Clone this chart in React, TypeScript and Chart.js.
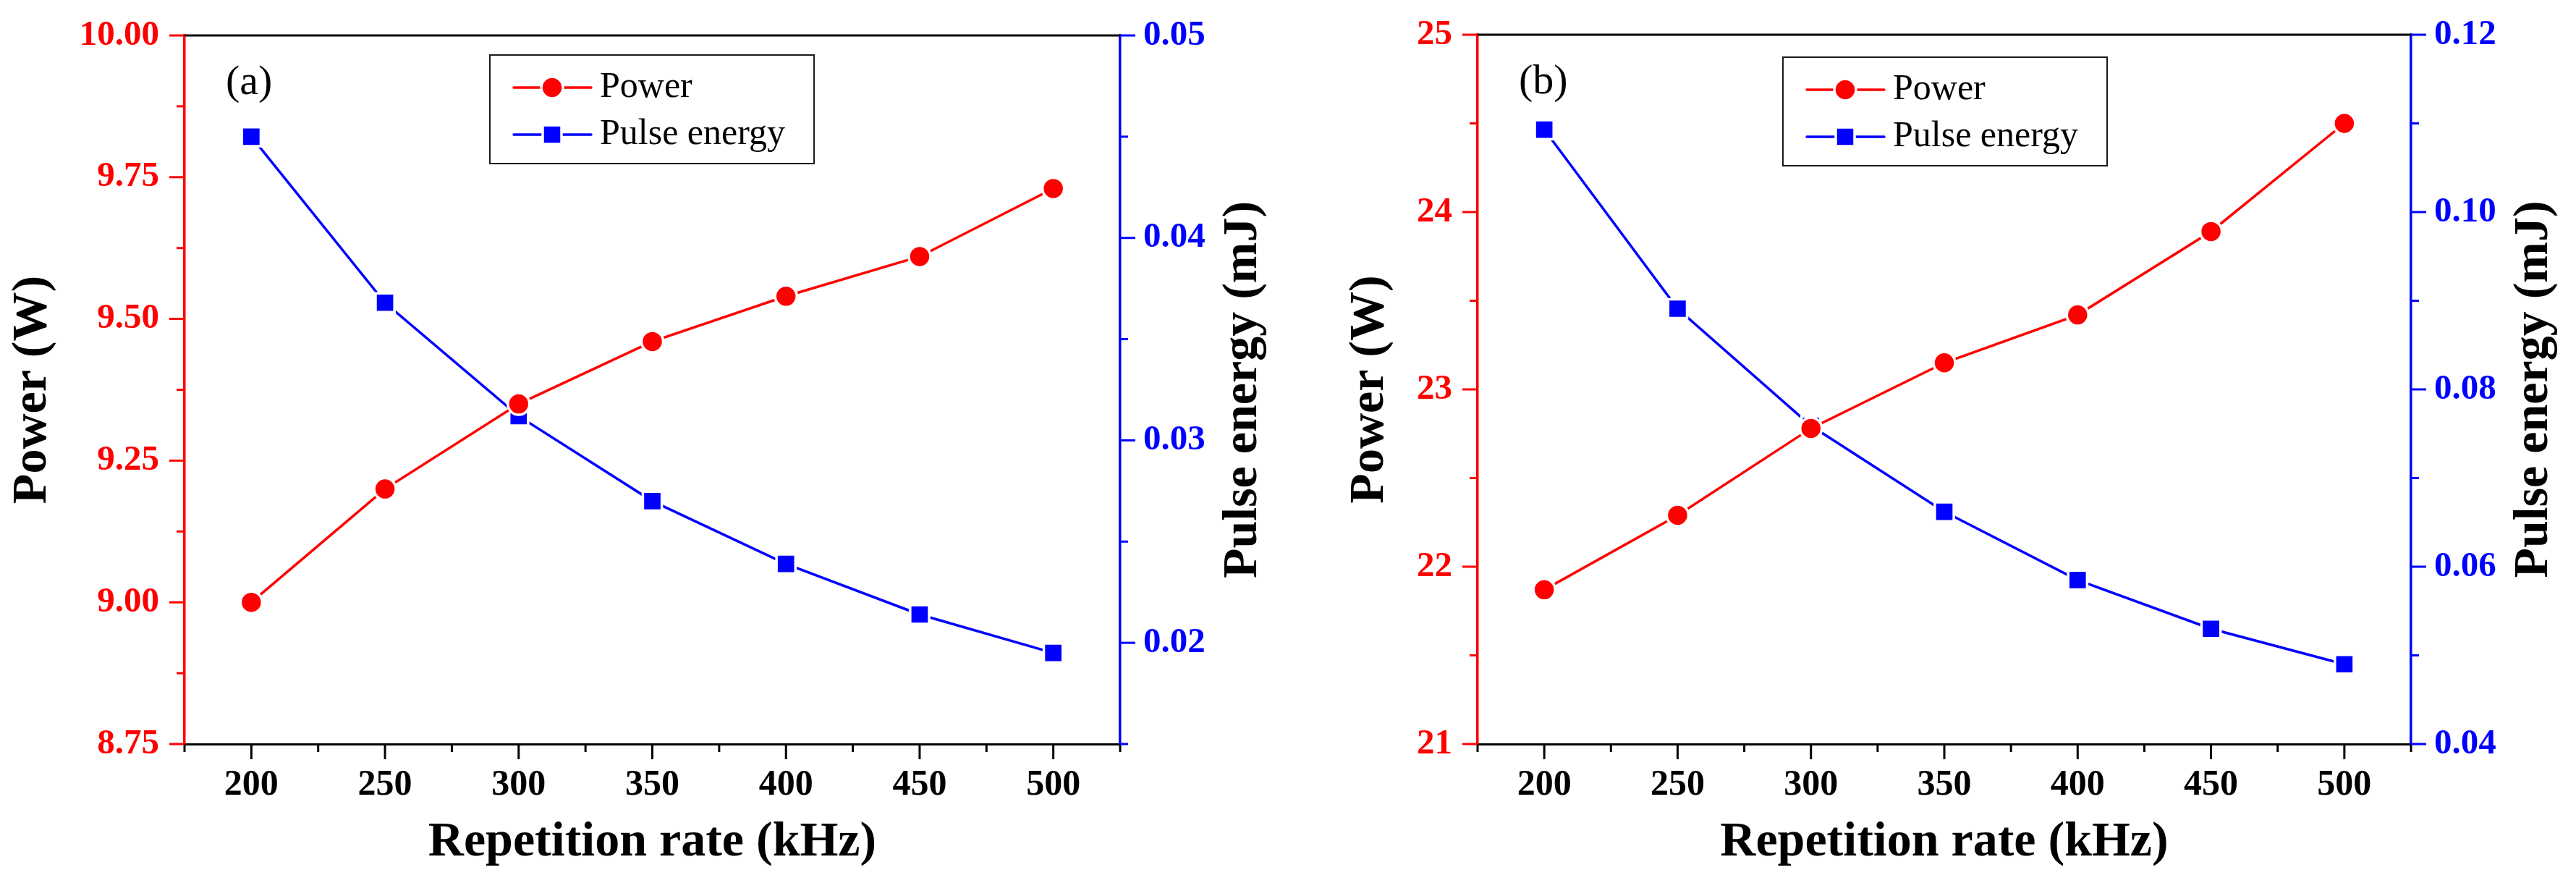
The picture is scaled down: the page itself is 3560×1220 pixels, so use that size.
import React, { useEffect, useRef } from 'react';
import { Chart, registerables } from 'chart.js';

Chart.register(...registerables);

const SERIF = '"Liberation Serif", "Times New Roman", serif';
const RED = '#ff0000';
const BLUE = '#0000ff';

// shared x values (kHz)
const repRates = [200, 250, 300, 350, 400, 450, 500];
const xTicks = [200, 250, 300, 350, 400, 450, 500];

// panel (a)
const powerA = [9.0, 9.2, 9.35, 9.46, 9.54, 9.61, 9.73];
const energyA = [0.045, 0.0368, 0.0312, 0.027, 0.0239, 0.0214, 0.0195];
const powerTicksA = [8.75, 9.0, 9.25, 9.5, 9.75, 10.0];
const energyTicksA = [0.02, 0.03, 0.04, 0.05];

// panel (b)
const powerB = [21.87, 22.29, 22.78, 23.15, 23.42, 23.89, 24.5];
const energyB = [0.1093, 0.0891, 0.0759, 0.0662, 0.0585, 0.053, 0.049];
const powerTicksB = [21, 22, 23, 24, 25];
const energyTicksB = [0.04, 0.06, 0.08, 0.1, 0.12];

const isMajor = (v: number, majors: number[]) => majors.some(m => Math.abs(m - v) < 1e-7);

// outward major/minor ticks, plus the plain black top frame line
const axisTicks = {
    id: 'axisTicks',
    afterDraw(chart: any) {
        const { ctx, chartArea } = chart;
        ctx.save();
        ctx.lineCap = 'butt';
        ctx.lineWidth = 3;
        ['x', 'y', 'y1'].forEach(id => {
            const scale = chart.scales[id];
            ctx.strokeStyle = scale.options.border.color;
            scale.ticks.forEach((t: any) => {
                const len = t.label !== '' ? 21 : 11;
                const p = scale.getPixelForValue(t.value);
                ctx.beginPath();
                if (id === 'x') {
                    ctx.moveTo(p, chartArea.bottom);
                    ctx.lineTo(p, chartArea.bottom + len);
                } else if (id === 'y') {
                    ctx.moveTo(chartArea.left, p);
                    ctx.lineTo(chartArea.left - len, p);
                } else {
                    ctx.moveTo(chartArea.right, p);
                    ctx.lineTo(chartArea.right + len, p);
                }
                ctx.stroke();
            });
        });
        ctx.strokeStyle = '#000';
        ctx.beginPath();
        ctx.moveTo(chartArea.left, chartArea.top);
        ctx.lineTo(chartArea.right, chartArea.top);
        ctx.stroke();
        ctx.restore();
    }
};

// legend box, panel tag and the right axis title (reads bottom to top like the left one)
const panelDecor = {
    id: 'panelDecor',
    afterDraw(chart: any, _args: any, opts: any) {
        const { ctx, chartArea } = chart;
        ctx.save();

        ctx.fillStyle = '#000';
        ctx.font = `58px ${SERIF}`;
        ctx.textAlign = 'left';
        ctx.textBaseline = 'middle';
        ctx.fillText(opts.tag, chartArea.left + 57, chartArea.top + 66);

        const bx = chartArea.left + 422;
        const by = chartArea.top + opts.legendTop;
        ctx.strokeStyle = '#1a1a1a';
        ctx.lineWidth = 2;
        ctx.strokeRect(bx, by, 448, 150);

        chart.data.datasets.forEach((ds: any, i: number) => {
            const y = by + 45 + i * 65;
            ctx.strokeStyle = ds.borderColor;
            ctx.lineWidth = 3.5;
            ctx.lineCap = 'round';
            ctx.beginPath();
            ctx.moveTo(bx + 33, y);
            ctx.lineTo(bx + 140, y);
            ctx.stroke();

            ctx.fillStyle = ds.borderColor;
            ctx.strokeStyle = '#fff';
            ctx.lineWidth = 3.5;
            ctx.beginPath();
            if (ds.pointStyle === 'circle') {
                ctx.arc(bx + 86, y, 15, 0, Math.PI * 2);
            } else {
                ctx.rect(bx + 86 - 13, y - 13, 26, 26);
            }
            ctx.fill();
            ctx.stroke();

            ctx.fillStyle = '#000';
            ctx.font = `50px ${SERIF}`;
            ctx.textBaseline = 'middle';
            ctx.fillText(ds.label, bx + 152, y);
        });

        ctx.translate(chartArea.right + 170, (chartArea.top + chartArea.bottom) / 2);
        ctx.rotate(-Math.PI / 2);
        ctx.font = `bold 68px ${SERIF}`;
        ctx.textAlign = 'center';
        ctx.textBaseline = 'middle';
        ctx.fillStyle = '#000';
        ctx.fillText('Pulse energy (mJ)', 0, 0);
        ctx.restore();
    }
};

interface PanelProps {
    tag: string;
    power: number[];
    energy: number[];
    powerTicks: number[];
    energyTicks: number[];
    powerDigits: number;
    leftW: number;
    rightW: number;
    topPad: number;
    titlePad: number;
    legendTop: number;
}

const Panel: React.FC<PanelProps> = (p) => {
    const canvasRef = useRef<HTMLCanvasElement | null>(null);

    useEffect(() => {
        if (!canvasRef.current) return;
        const pStep = (p.powerTicks[1] - p.powerTicks[0]) / 2;
        const eStep = (p.energyTicks[1] - p.energyTicks[0]) / 2;
        const xStep = (xTicks[1] - xTicks[0]) / 2;

        const chart = new Chart(canvasRef.current, {
            type: 'line',
            data: {
                datasets: [
                    {
                        label: 'Power',
                        data: repRates.map((r, i) => ({ x: r, y: p.power[i] })),
                        yAxisID: 'y',
                        borderColor: RED,
                        backgroundColor: RED,
                        borderWidth: 3.5,
                        pointStyle: 'circle',
                        pointRadius: 15,
                        pointBorderWidth: 3.5,
                        pointBorderColor: '#fff',
                        pointBackgroundColor: RED,
                    },
                    {
                        label: 'Pulse energy',
                        data: repRates.map((r, i) => ({ x: r, y: p.energy[i] })),
                        yAxisID: 'y1',
                        borderColor: BLUE,
                        backgroundColor: BLUE,
                        borderWidth: 3.5,
                        pointStyle: 'rect',
                        pointRadius: 18.5,
                        pointBorderWidth: 3.5,
                        pointBorderColor: '#fff',
                        pointBackgroundColor: BLUE,
                    },
                ],
            },
            options: {
                responsive: false,
                animation: false,
                devicePixelRatio: 1,
                events: [],
                layout: { padding: { top: p.topPad, left: 0, right: 0, bottom: 0 } },
                plugins: {
                    legend: { display: false },
                    tooltip: { enabled: false },
                    panelDecor: { tag: p.tag, legendTop: p.legendTop },
                } as any,
                scales: {
                    x: {
                        type: 'linear',
                        position: 'bottom',
                        min: xTicks[0] - xStep,
                        max: xTicks[xTicks.length - 1] + xStep,
                        afterFit: (s: any) => { s.height = 192; s.paddingLeft = 0; s.paddingRight = 0; },
                        ticks: {
                            stepSize: xStep,
                            autoSkip: false,
                            maxRotation: 0,
                            padding: 27,
                            color: '#000',
                            font: { family: SERIF, size: 50, weight: 'bold' },
                            callback: (v: any) => (isMajor(Number(v), xTicks) ? String(v) : ''),
                        },
                        grid: { display: false, drawTicks: false },
                        border: { display: true, color: '#000', width: 3 },
                        title: {
                            display: true,
                            text: 'Repetition rate (kHz)',
                            color: '#000',
                            font: { family: SERIF, size: 68, weight: 'bold' },
                            padding: { top: 0, bottom: 15 },
                        },
                    },
                    y: {
                        type: 'linear',
                        position: 'left',
                        min: p.powerTicks[0],
                        max: p.powerTicks[p.powerTicks.length - 1],
                        afterFit: (s: any) => { s.width = p.leftW; s.paddingTop = 0; s.paddingBottom = 0; },
                        ticks: {
                            stepSize: pStep,
                            autoSkip: false,
                            padding: 35,
                            color: RED,
                            font: { family: SERIF, size: 49, weight: 'bold' },
                            callback: (v: any) => (isMajor(Number(v), p.powerTicks) ? Number(v).toFixed(p.powerDigits) : ''),
                        },
                        grid: { display: false, drawTicks: false },
                        border: { display: true, color: RED, width: 3.5 },
                        title: {
                            display: true,
                            text: 'Power (W)',
                            color: '#000',
                            font: { family: SERIF, size: 68, weight: 'bold' },
                            padding: { top: p.titlePad, bottom: 0 },
                        },
                    },
                    y1: {
                        type: 'linear',
                        position: 'right',
                        min: p.energyTicks[0] - (p.energyTicks.length === 4 ? eStep : 0),
                        max: p.energyTicks[p.energyTicks.length - 1],
                        afterFit: (s: any) => { s.width = p.rightW; s.paddingTop = 0; s.paddingBottom = 0; },
                        ticks: {
                            stepSize: eStep,
                            autoSkip: false,
                            padding: 32,
                            color: BLUE,
                            font: { family: SERIF, size: 49, weight: 'bold' },
                            callback: (v: any) => (isMajor(Number(v), p.energyTicks) ? Number(v).toFixed(2) : ''),
                        },
                        grid: { display: false, drawTicks: false },
                        border: { display: true, color: BLUE, width: 3.5 },
                    },
                },
            } as any,
            plugins: [axisTicks, panelDecor],
        });

        return () => {
            chart.destroy();
        };
    }, [p]);

    return <canvas ref={canvasRef} width={1780} height={1220} style={{ display: 'block' }} />;
};

const panelA: PanelProps = {
    tag: '(a)',
    power: powerA,
    energy: energyA,
    powerTicks: powerTicksA,
    energyTicks: energyTicksA,
    powerDigits: 2,
    leftW: 255,
    rightW: 232,
    topPad: 49,
    titlePad: 5,
    legendTop: 27,
};

const panelB: PanelProps = {
    tag: '(b)',
    power: powerB,
    energy: energyB,
    powerTicks: powerTicksB,
    energyTicks: energyTicksB,
    powerDigits: 0,
    leftW: 262,
    rightW: 228,
    topPad: 48,
    titlePad: 73,
    legendTop: 31,
};

const App: React.FC = () => {
    return (
        <div style={{ position: 'absolute', left: 0, top: 0, width: 3560, height: 1220, display: 'flex', background: '#fff' }}>
            <Panel {...panelA} />
            <Panel {...panelB} />
        </div>
    );
};

export default App;
